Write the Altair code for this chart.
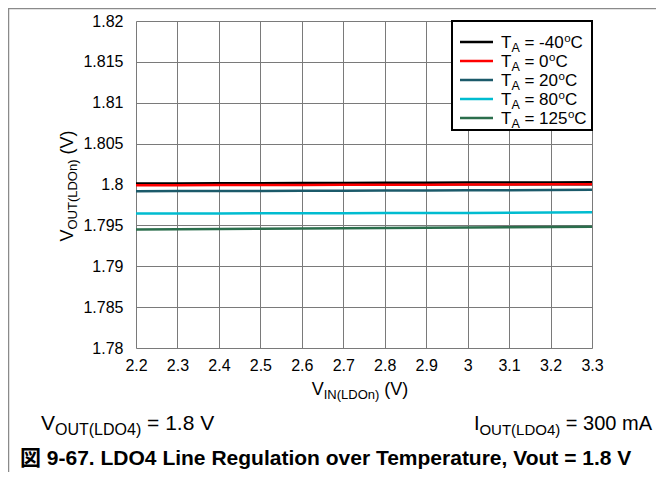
import altair as alt
import pandas as pd

# ---------------- data ----------------
vin = [2.2, 2.3, 2.4, 2.5, 2.6, 2.7, 2.8, 2.9, 3.0, 3.1, 3.2, 3.3]
series_names = ["TA = -40°C", "TA = 0°C", "TA = 20°C", "TA = 80°C", "TA = 125°C"]
v_m40 = [1.80012, 1.80013, 1.80015, 1.80016, 1.80018, 1.80019, 1.80020, 1.80021, 1.80023, 1.80025, 1.80026, 1.80028]
v_0 = [1.79991, 1.79992, 1.79993, 1.79994, 1.79995, 1.79996, 1.79997, 1.79998, 1.79999, 1.80001, 1.80002, 1.80004]
v_20 = [1.79918, 1.79919, 1.79920, 1.79922, 1.79923, 1.79925, 1.79926, 1.79928, 1.79929, 1.79931, 1.79933, 1.79935]
v_80 = [1.79646, 1.79645, 1.79646, 1.79647, 1.79648, 1.79649, 1.79650, 1.79651, 1.79652, 1.79654, 1.79657, 1.79662]
v_125 = [1.79451, 1.79453, 1.79456, 1.79459, 1.79462, 1.79465, 1.79468, 1.79471, 1.79474, 1.79477, 1.79480, 1.79484]
x_ticks = [2.2, 2.3, 2.4, 2.5, 2.6, 2.7, 2.8, 2.9, 3.0, 3.1, 3.2, 3.3]
y_ticks = [1.78, 1.785, 1.79, 1.795, 1.8, 1.805, 1.81, 1.815, 1.82]
legend_temps = ["-40", "0", "20", "80", "125"]
colors = ["#000000", "#ff0000", "#1b5a6a", "#00bcd0", "#2b6e4c"]

rows = []
for name, vals in zip(series_names, [v_m40, v_0, v_20, v_80, v_125]):
    for x, y in zip(vin, vals):
        rows.append({"series": name, "vin": x, "vout": y})
df = pd.DataFrame(rows)

# ---------------- layout ----------------
W, H = 456, 327
PAD = {"left": 128, "top": 13, "right": 64, "bottom": 124}
FONT = "Liberation Sans"

ARIAL = {" ": 278, "(": 333, ")": 333, "-": 333, ".": 278, "=": 584,
         "A": 667, "C": 722, "D": 722, "I": 278, "L": 556, "N": 722, "O": 778,
         "T": 611, "U": 722, "V": 667, "m": 833, "n": 556, "o": 556}
for d in "0123456789":
    ARIAL[d] = 556


def tw(s, fs):
    return sum(ARIAL.get(c, 556) for c in s) * fs / 1000.0


one = pd.DataFrame({"k": [0]})


def txt(t, x, y, fs, angle=0, weight="normal", color="#000000", align="left"):
    props = dict(text=t, fontSize=fs, font=FONT + ", Noto Sans CJK JP", align=align,
                 baseline="alphabetic", fontWeight=weight, color=color)
    if angle:
        props["angle"] = angle
    return alt.Chart(one).mark_text(**props).encode(x=alt.value(x), y=alt.value(y))


def rich(pieces, x0, y0, angle=0):
    """pieces: list of (text, fontsize, dy, gap_before)"""
    layers = []
    pos = 0.0
    for t, fs, dy, gap in pieces:
        pos += gap
        if angle == 270:
            layers.append(txt(t, x0 + dy, y0 - pos, fs, angle=270))
        else:
            layers.append(txt(t, x0 + pos, y0 + dy, fs))
        pos += tw(t, fs)
    return layers


def rich_width(pieces):
    return sum(gap + tw(t, fs) for t, fs, dy, gap in pieces)


# ---------------- chart ----------------
x_enc = alt.X("vin:Q", scale=alt.Scale(domain=[2.2, 3.3], nice=False),
              axis=alt.Axis(values=x_ticks, format="~g", title=None, grid=True,
                            ticks=False, domain=False, labelPadding=9,
                            labelFontSize=16, labelFont=FONT, labelColor="#000",
                            gridColor="#7a7a7a", gridWidth=1, gridOpacity=1,
                            labelOverlap=False, labelFlush=False, labelBound=False))
y_enc = alt.Y("vout:Q", scale=alt.Scale(domain=[1.78, 1.82], nice=False, zero=False),
              axis=alt.Axis(values=y_ticks, format="~g", title=None, grid=True,
                            ticks=False, domain=False, labelPadding=13,
                            labelFontSize=16, labelFont=FONT, labelColor="#000",
                            gridColor="#7a7a7a", gridWidth=1, gridOpacity=1,
                            labelOverlap=False, labelFlush=False, labelBound=False))

lines = alt.Chart(df).mark_line(strokeWidth=2.5).encode(
    x=x_enc, y=y_enc,
    color=alt.Color("series:N", scale=alt.Scale(domain=series_names, range=colors), legend=None),
    detail="series:N",
)

layers = [lines]

# legend box
layers.append(alt.Chart(one).mark_rect(fill="white", stroke="black", strokeWidth=2).encode(
    x=alt.value(316), x2=alt.value(456), y=alt.value(0), y2=alt.value(109)))
row_y = [21, 40, 59, 78, 97]
for ry, temp, col in zip(row_y, legend_temps, colors):
    layers.append(alt.Chart(one).mark_rule(strokeWidth=2.5, color=col).encode(
        x=alt.value(324), x2=alt.value(357), y=alt.value(ry)))
    pieces = [("T", 17, 0, 0), ("A", 12.5, 4, 0), ("= " + temp, 17, 0, tw(" ", 17)),
              ("o", 11.5, -6.5, 0.5), ("C", 17, 0, 0)]
    layers += rich(pieces, 365, ry + 6)

# x axis title (centered at page x 360, baseline page 395)
xt = [("V", 18, 0, 0), ("IN(LDOn)", 13, 4, 0), ("(V)", 18, 0, tw(" ", 18))]
layers += rich(xt, 224 - rich_width(xt) / 2, 374)

# y axis title (rotated, centered at page y 186)
yt = [("V", 18, 0, 0), ("OUT(LDOn)", 13, 4, 0), ("(V)", 18, 0, tw(" ", 18))]
layers += rich(yt, -63, 165 + rich_width(yt) / 2, angle=270)

# bottom annotations
a1 = [("V", 21, 0, 0), ("OUT(LDO4)", 16, 5, 0), ("= 1.8 V", 21, 0, tw(" ", 21))]
layers += rich(a1, -95, 409)
a2 = [("I", 20, 0, 0), ("OUT(LDO4)", 15, 5, 0), ("= 300 mA", 20, 0, tw(" ", 20))]
layers += rich(a2, 516 - rich_width(a2), 409)

# caption
layers.append(txt("図 9-67. LDO4 Line Regulation over Temperature, Vout = 1.8 V",
                  -116, 444, 21, weight="bold"))

# outer frame lines
layers.append(alt.Chart(one).mark_rule(color="#8a8a8a", strokeWidth=1.5).encode(
    x=alt.value(-128), x2=alt.value(520), y=alt.value(-12.5)))
layers.append(alt.Chart(one).mark_rule(color="#8a8a8a", strokeWidth=1.5).encode(
    x=alt.value(-127.5), y=alt.value(-13), y2=alt.value(451)))

chart = alt.layer(*layers).properties(
    width=W, height=H, padding=PAD,
    autosize=alt.AutoSizeParams(type="none"),
).configure_view(stroke="black", strokeWidth=2.5).configure(background="white")

chart.save("out.html", embed_options={"renderer": "svg", "actions": False})
